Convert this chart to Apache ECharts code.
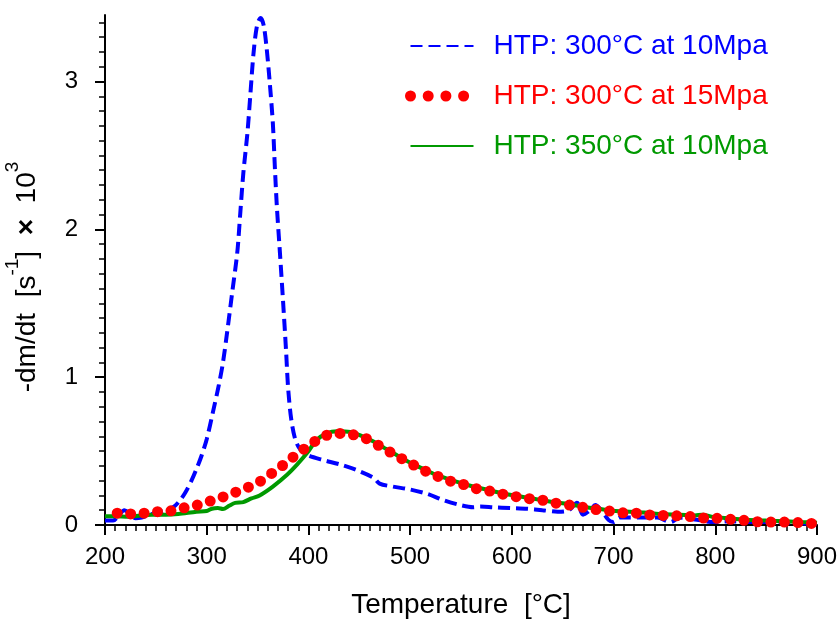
<!DOCTYPE html>
<html>
<head>
<meta charset="utf-8">
<script src="https://cdn.jsdelivr.net/npm/echarts@6/dist/echarts.min.js"></script>
<style>
html,body{margin:0;padding:0;background:#fff;}
#chart{width:837px;height:619px;}
</style>
</head>
<body>
<div id="chart"></div>
<script>
// ---- Data ----
const seriesNames = ['HTP: 300°C at 10Mpa', 'HTP: 300°C at 15Mpa', 'HTP: 350°C at 10Mpa'];

const blueT = [200,208,214,219,224,230,236,244,252,260,267,273,279,285,290,295,300,306,312,316,320,325,330,333,336,340,343,346,349.5,353,356,359,362,365,367,369,372,375,378,380,383,387,392,400,414,431,448,464,470,483,500,517,532,549,562,569,582,598,615,630,645,656,664,670,677,682,688,695,700,706,726,743,756,765,782,798,815,840,864,888,900];
const blueV = [0.03,0.03,0.07,0.10,0.08,0.045,0.05,0.07,0.085,0.10,0.12,0.16,0.22,0.30,0.38,0.47,0.58,0.76,0.95,1.10,1.30,1.57,1.84,2.11,2.38,2.65,2.92,3.19,3.38,3.43,3.38,3.22,2.99,2.72,2.42,2.15,1.84,1.52,1.18,0.93,0.72,0.58,0.51,0.47,0.44,0.41,0.37,0.32,0.28,0.26,0.24,0.21,0.17,0.135,0.12,0.125,0.12,0.115,0.11,0.10,0.09,0.10,0.15,0.07,0.10,0.135,0.10,0.035,0.02,0.05,0.05,0.05,0.02,0.05,0.035,0.02,0.025,0.02,0.02,0.01,0.01];

const redT = [212,225,238,251,264,277,288,300,312,324,335,346,356,366,376,385,395,405,415,428,440,453,464,473,484,494,505,515,527,538,550,562,575,586,599,612,625,638,650,663,676,689,701,714,727,739,753,766,780,793,807,819,832,846,859,872,884,897];
const redV = [0.08,0.075,0.08,0.09,0.095,0.115,0.13,0.155,0.18,0.21,0.24,0.27,0.31,0.36,0.41,0.46,0.51,0.56,0.60,0.62,0.615,0.595,0.56,0.52,0.48,0.44,0.40,0.365,0.33,0.30,0.28,0.25,0.235,0.215,0.20,0.18,0.175,0.155,0.14,0.13,0.11,0.10,0.09,0.08,0.08,0.065,0.065,0.06,0.055,0.045,0.045,0.035,0.03,0.02,0.02,0.02,0.015,0.01];

const greenT = [200,210,223,235,246,260,272,290,300,305,311,316,322,328,336,344,352,365,379,389,399,408,418,428,441,453,464,475,485,495,505,516,527,540,552,565,578,590,602,615,628,640,652,665,678,690,702,716,730,745,765,780,787,798,815,831,850,870,885,900];
const greenV = [0.06,0.06,0.055,0.065,0.07,0.07,0.075,0.09,0.095,0.11,0.115,0.108,0.13,0.15,0.155,0.18,0.20,0.26,0.34,0.41,0.49,0.575,0.62,0.635,0.63,0.60,0.565,0.52,0.48,0.44,0.405,0.37,0.335,0.305,0.28,0.255,0.235,0.215,0.20,0.185,0.17,0.155,0.145,0.13,0.115,0.105,0.095,0.09,0.085,0.075,0.07,0.065,0.07,0.055,0.045,0.035,0.03,0.025,0.02,0.015];

const xTickLabels = [200,300,400,500,600,700,800,900];
const yTickLabels = [0,1,2,3];
const yMinorTicks = [];
for (let i = 0; i <= 34; i++) { if (i % 10 !== 0) yMinorTicks.push(+(i * 0.1).toFixed(1)); }

// ---- Chart ----
const zip = (t, v) => t.map((x, i) => [x, v[i]]);
const FONT = 'Liberation Sans';
const colors = ['#0000ff', '#ff0000', '#009900'];

const chart = echarts.init(document.getElementById('chart'), null, {renderer: 'canvas'});
chart.setOption({
  animation: false,
  backgroundColor: '#fff',
  grid: {left: 105, right: 20, top: 15, bottom: 94, containLabel: false, outerBoundsMode: 'none'},
  legend: {
    orient: 'vertical',
    left: 405,
    top: 32,
    padding: 0,
    itemWidth: 63,
    itemHeight: 28,
    itemGap: 22,
    itemStyle: {color: 'rgba(0,0,0,0)', borderWidth: 0, opacity: 0},
    textStyle: {fontFamily: FONT, fontSize: 28, padding: [0, 0, 0, 15]},
    data: [
      {name: seriesNames[0], textStyle: {color: colors[0]}},
      {name: seriesNames[1], textStyle: {color: colors[1]}, lineStyle: {type: [0, 17.7], width: 11, cap: 'round'}},
      {name: seriesNames[2], textStyle: {color: colors[2]}}
    ]
  },
  xAxis: {
    type: 'value',
    min: 200, max: 900, interval: 100,
    name: 'Temperature  [°C]',
    nameLocation: 'middle',
    nameGap: 66,
    nameTextStyle: {fontFamily: FONT, fontSize: 28, color: '#000'},
    axisLine: {lineStyle: {color: '#000', width: 2}},
    axisTick: {show: true, inside: false, length: 10, lineStyle: {color: '#000', width: 2}},
    minorTick: {show: true, splitNumber: 10, length: 6, lineStyle: {color: '#000', width: 1.5}},
    axisLabel: {fontFamily: FONT, fontSize: 24, color: '#000', margin: 20,
      customValues: xTickLabels},
    splitLine: {show: false},
    minorSplitLine: {show: false}
  },
  yAxis: [{
    type: 'value',
    min: 0, max: 3.45,
    name: '{b|-dm/dt  [s}{sup|-1}{b|]  }{x|×}{b|  10}{sup|3}',
    nameLocation: 'middle',
    nameRotate: 90,
    nameGap: 64,
    nameTextStyle: {
      fontFamily: FONT, fontSize: 28, color: '#000', padding: [0, 14, 0, 0],
      rich: {
        b: {fontFamily: FONT, fontSize: 28, color: '#000', lineHeight: 40, verticalAlign: 'bottom'},
        x: {fontFamily: FONT, fontSize: 28, fontWeight: 'bold', color: '#000', lineHeight: 40, verticalAlign: 'bottom'},
        sup: {fontFamily: FONT, fontSize: 19, color: '#000', lineHeight: 19, verticalAlign: 'top', padding: [2, 0, 0, 0]}
      }
    },
    axisLine: {show: true, lineStyle: {color: '#000', width: 2}},
    axisTick: {show: true, inside: false, length: 10, lineStyle: {color: '#000', width: 2},
      customValues: yTickLabels},
    axisLabel: {fontFamily: FONT, fontSize: 24, color: '#000', margin: 27,
      customValues: yTickLabels},
    splitLine: {show: false}
  }, {
    type: 'value',
    min: 0, max: 3.45,
    position: 'left',
    axisLine: {show: false},
    axisTick: {show: true, inside: false, length: 6, lineStyle: {color: '#000', width: 1.5},
      customValues: yMinorTicks},
    axisLabel: {show: false},
    splitLine: {show: false}
  }],
  series: [
    {
      name: seriesNames[0], type: 'line', data: zip(blueT, blueV),
      showSymbol: false, symbol: 'none', smooth: 0.3,
      lineStyle: {color: colors[0], width: 4, type: [12, 6]},
      itemStyle: {color: colors[0]}, z: 2
    },
    {
      name: seriesNames[2], type: 'line', data: zip(greenT, greenV),
      showSymbol: false, symbol: 'none', smooth: 0.3,
      lineStyle: {color: colors[2], width: 4},
      itemStyle: {color: colors[2]}, z: 3
    },
    {
      name: seriesNames[1], type: 'line', data: zip(redT, redV),
      showSymbol: false, symbol: 'none', smooth: 0.3,
      lineStyle: {color: colors[1], width: 11, type: [0, 13.5], cap: 'round'},
      itemStyle: {color: colors[1]}, z: 4
    }
  ]
});
</script>
</body>
</html>
